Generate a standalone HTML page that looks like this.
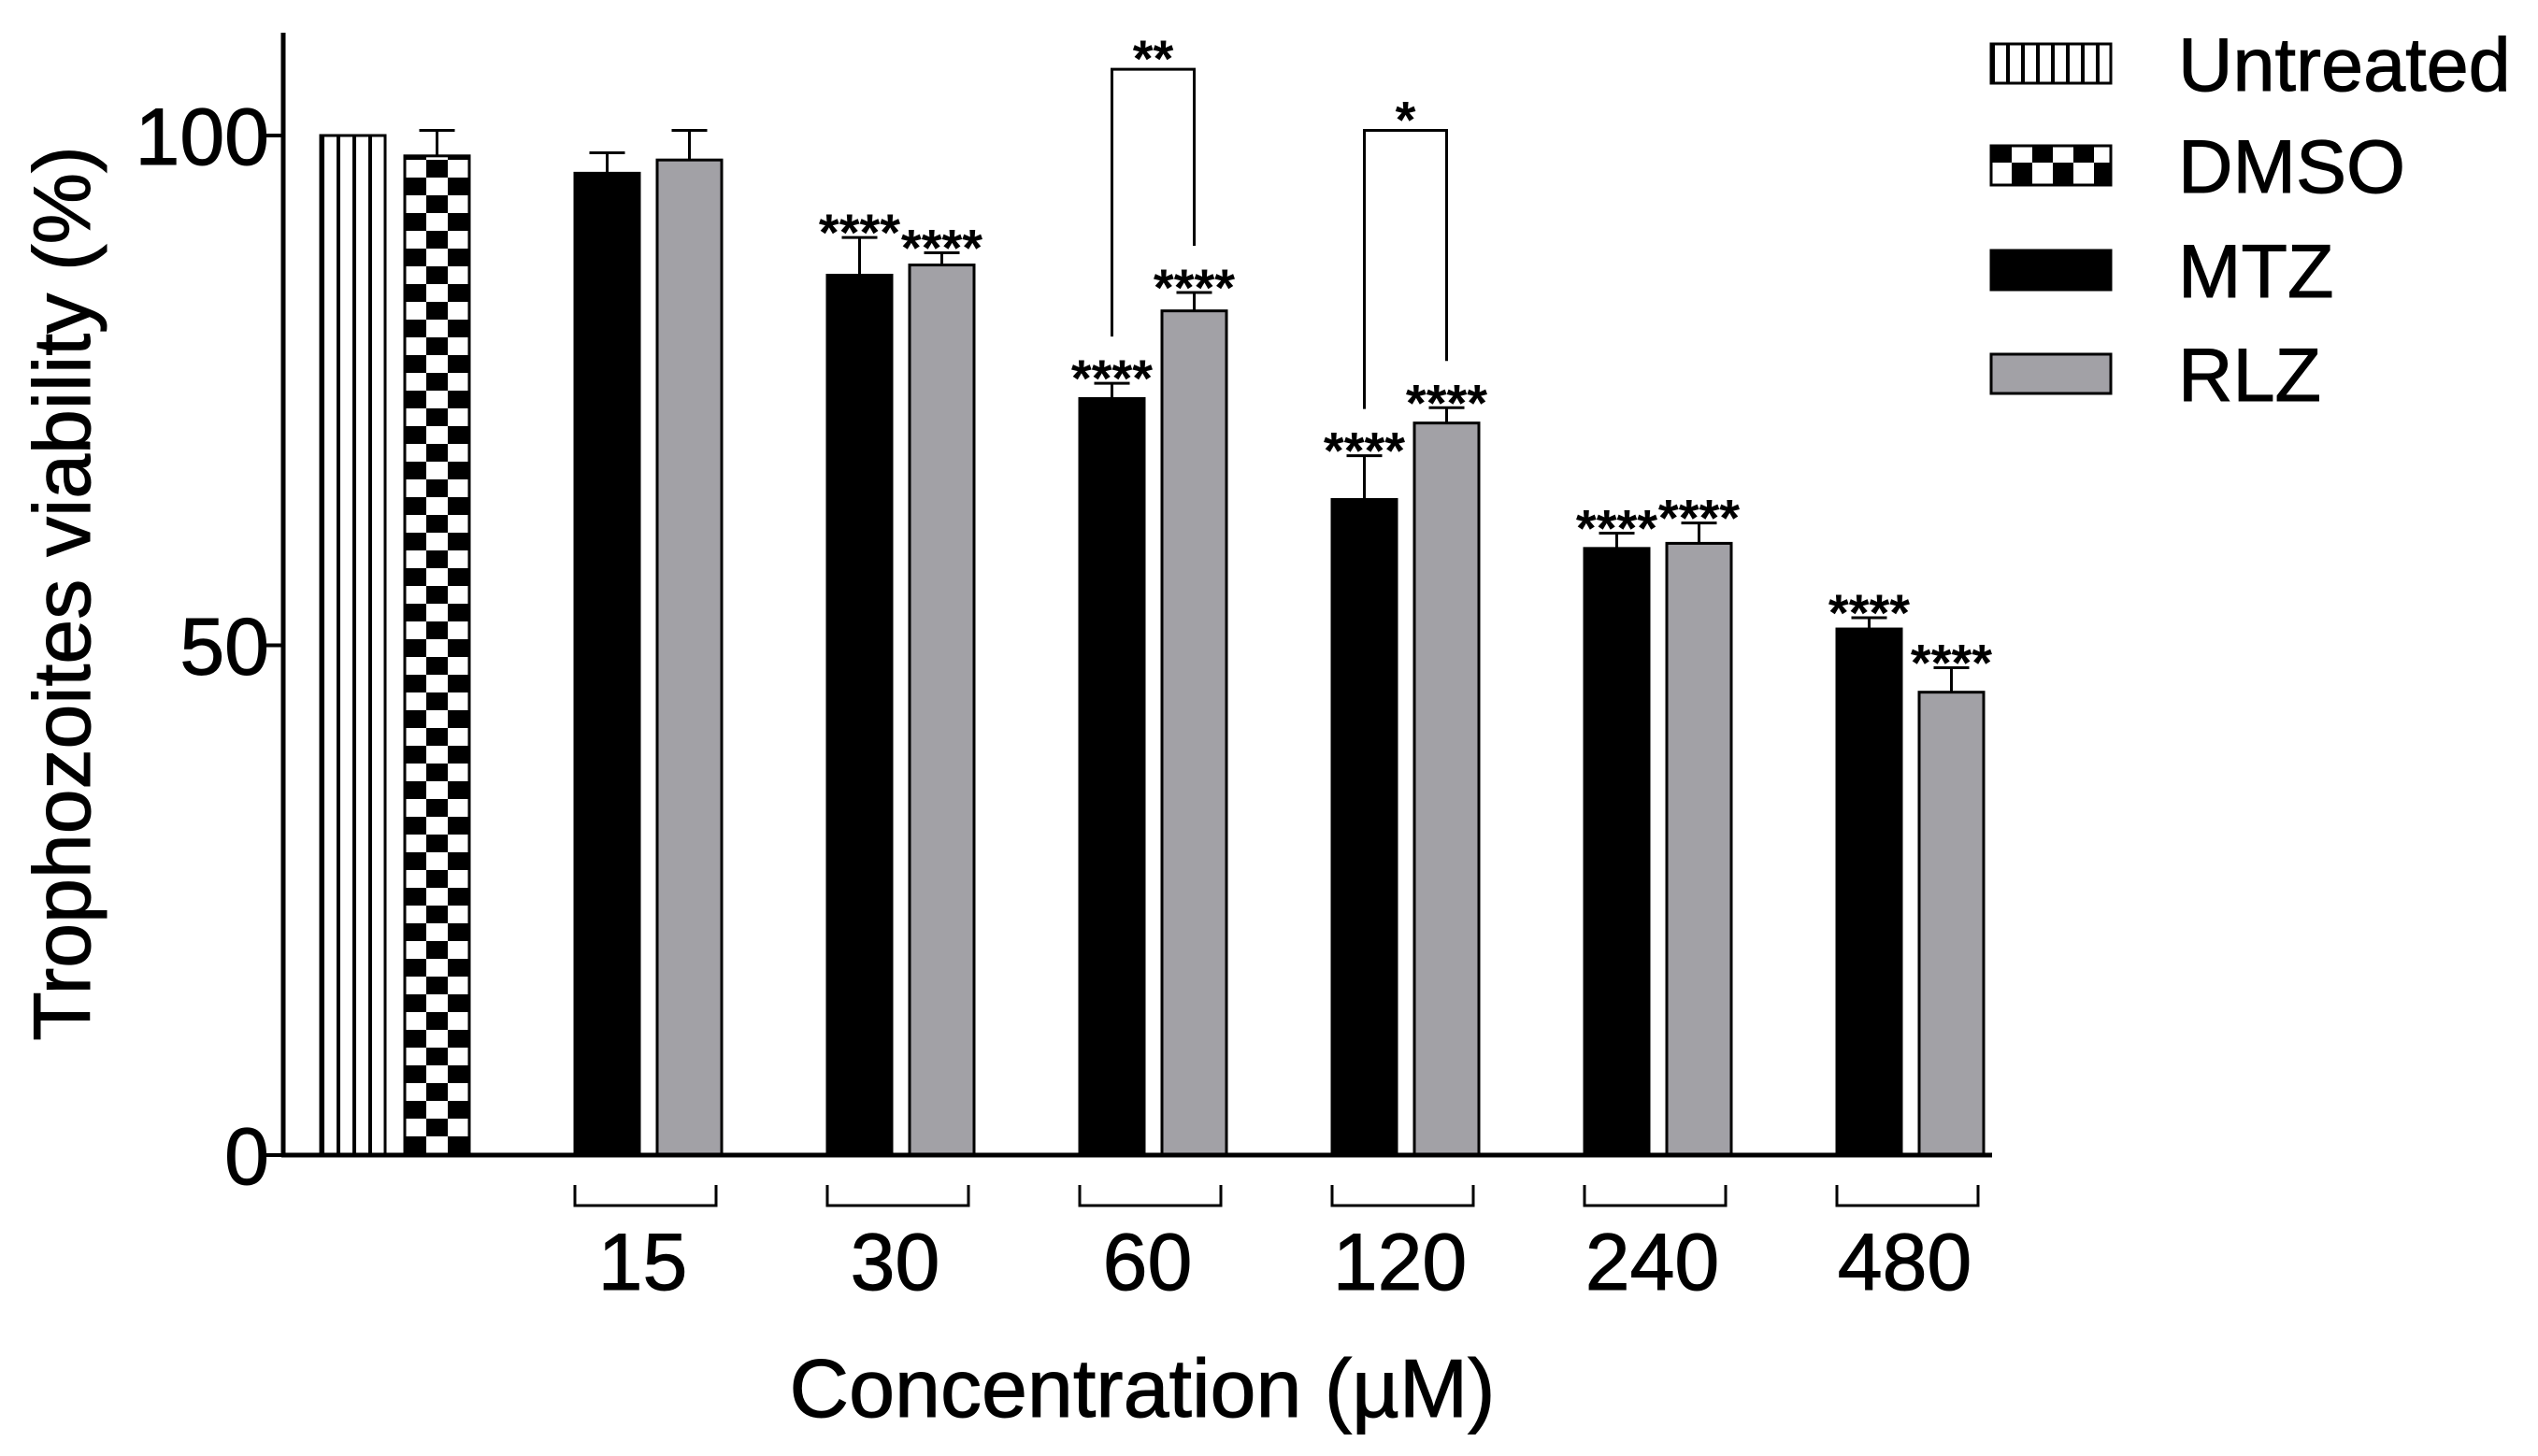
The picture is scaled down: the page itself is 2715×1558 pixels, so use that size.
<!DOCTYPE html>
<html><head><meta charset="utf-8"><style>
html,body{margin:0;padding:0;background:#fff}
svg{display:block}
text{font-family:"Liberation Sans",Arial,sans-serif;fill:#000}
</style></head><body>
<svg id="chart" width="2715" height="1558" viewBox="0 0 2715 1558" xmlns="http://www.w3.org/2000/svg">
<defs>
<pattern id="stripes" patternUnits="userSpaceOnUse" x="343" y="0" width="17" height="10"><rect width="17" height="10" fill="#fff"/><rect x="0" width="4" height="10" fill="#000"/></pattern>
<pattern id="checker" patternUnits="userSpaceOnUse" x="433" y="0" width="46" height="38"><rect width="46" height="38" fill="#fff"/><rect width="23" height="19" fill="#000"/><rect x="23" y="19" width="23" height="19" fill="#000"/></pattern>
<pattern id="stripesL" patternUnits="userSpaceOnUse" x="2130" y="0" width="16" height="10"><rect width="16" height="10" fill="#fff"/><rect width="4" height="10" fill="#000"/></pattern>
<pattern id="checkerL" patternUnits="userSpaceOnUse" x="2130" y="54" width="44" height="48"><rect width="44" height="48" fill="#fff"/><rect width="22" height="24" fill="#000"/><rect x="22" y="24" width="22" height="24" fill="#000"/></pattern>
</defs>
<g id="marks"></g>
<text transform="translate(96,635) rotate(-90)" text-anchor="middle" font-size="86" stroke="#000" stroke-width="1">Trophozoites viability (%)</text>
<text x="1222" y="1516" text-anchor="middle" font-size="88" stroke="#000" stroke-width="1">Concentration (µM)</text>
<g>
<rect x="2130" y="47" width="128" height="42" fill="url(#stripesL)" stroke="#000" stroke-width="3"/>
<text x="2330" y="97" font-size="81" stroke="#000" stroke-width="1">Untreated</text>
<rect x="2130" y="156" width="128" height="42" fill="url(#checkerL)" stroke="#000" stroke-width="3"/>
<text x="2330" y="206" font-size="81" stroke="#000" stroke-width="1">DMSO</text>
<rect x="2130" y="268" width="128" height="42" fill="#000" stroke="#000" stroke-width="3"/>
<text x="2330" y="318" font-size="81" stroke="#000" stroke-width="1">MTZ</text>
<rect x="2130" y="379" width="128" height="42" fill="#a2a1a6" stroke="#000" stroke-width="3"/>
<text x="2330" y="429" font-size="81" stroke="#000" stroke-width="1">RLZ</text>
</g>
</svg>
<script>
const categories = ["15","30","60","120","240","480"];
const mtzValues = [96.3, 86.3, 74.2, 64.3, 59.5, 51.6];
const mtzErr = [2.0, 3.7, 1.5, 4.3, 1.5, 1.1];
const rlzValues = [97.6, 87.3, 82.8, 71.8, 60.0, 45.4];
const rlzErr = [2.9, 1.2, 1.8, 1.5, 2.0, 2.4];
const mtzStars = ["", "****", "****", "****", "****", "****"];
const rlzStars = ["", "****", "****", "****", "****", "****"];
const controlLabels = ["Untreated","DMSO"];
const controlValues = [100, 98.0];
const controlErr = [0, 2.5];
const yTicks = [0, 50, 100];
const comparisons = [{group:2, label:"**", top:106.5}, {group:3, label:"*", top:100.5}];

const NS = "http://www.w3.org/2000/svg";
const g = document.getElementById('marks');
const y0 = 1236, yScale = 10.91;
const y = v => y0 - v * yScale;
const barW = 69;
const groupX = i => 615 + i * 270;
const rlzX = i => groupX(i) + 88;
function el(tag, attrs, parent) {
  const e = document.createElementNS(NS, tag);
  for (const k in attrs) e.setAttribute(k, attrs[k]);
  (parent || g).appendChild(e);
  return e;
}
function errBar(cx, v, e) {
  if (e <= 0) return;
  const l = el('path', {d:`M${cx},${y(v)} V${y(v+e)} M${cx-19},${y(v+e)} H${cx+19}`, stroke:'#000', 'stroke-width':3, fill:'none'});
  
  
}
function stars(cx, v, s) {
  if (!s) return;
  const t = el('text', {x:cx, y:y(v)+14, 'text-anchor':'middle', 'font-size':56, 'font-weight':'bold'});
  t.textContent = s;
  
  
}
const ctrlX = [343, 433];
const fills = ['url(#stripes)', 'url(#checker)'];
controlValues.forEach((v, i) => {
  const r = el('rect', {x:ctrlX[i], y:y(v), width:barW, height:y0 - y(v), fill:fills[i], stroke:'#000', 'stroke-width':3});
  
  
  errBar(ctrlX[i] + barW/2, v, controlErr[i]);
});
categories.forEach((c, i) => {
  const r1 = el('rect', {x:groupX(i), y:y(mtzValues[i]), width:barW, height:y0 - y(mtzValues[i]), fill:'#000', stroke:'#000', 'stroke-width':3});
  
  
  const r2 = el('rect', {x:rlzX(i), y:y(rlzValues[i]), width:barW, height:y0 - y(rlzValues[i]), fill:'#a2a1a6', stroke:'#000', 'stroke-width':3});
  
  
  errBar(groupX(i) + barW/2, mtzValues[i], mtzErr[i]);
  errBar(rlzX(i) + barW/2, rlzValues[i], rlzErr[i]);
  stars(groupX(i) + barW/2, mtzValues[i] + mtzErr[i], mtzStars[i]);
  stars(rlzX(i) + barW/2, rlzValues[i] + rlzErr[i], rlzStars[i]);
  const b = el('path', {d:`M${groupX(i)},1268 V1290 H${rlzX(i)+barW-6} V1268`, stroke:'#000', 'stroke-width':3, fill:'none'});
  
  
  const t = el('text', {x:(groupX(i) + rlzX(i) + barW)/2 - 6, y:1380, 'text-anchor':'middle', 'font-size':86, stroke:'#000', 'stroke-width':1});
  t.textContent = c;
  
  
});
comparisons.forEach(cmp => {
  const i = cmp.group;
  const lx = groupX(i) + barW/2, rx = rlzX(i) + barW/2;
  const lb = y(mtzValues[i] + mtzErr[i]) - 50, rb = y(rlzValues[i] + rlzErr[i]) - 50;
  const p = el('path', {d:`M${lx},${lb} V${y(cmp.top)} H${rx} V${rb}`, stroke:'#000', 'stroke-width':3, fill:'none'});
  
  
  const t = el('text', {x:(lx + rx)/2, y:y(cmp.top) + 8, 'text-anchor':'middle', 'font-size':56, 'font-weight':'bold'});
  t.textContent = cmp.label;
  
  
});
const ya = el('line', {x1:303, y1:35, x2:303, y2:y0 + 2, stroke:'#000', 'stroke-width':5});


const xa = el('line', {x1:301, y1:y0, x2:2131, y2:y0, stroke:'#000', 'stroke-width':5});


yTicks.forEach(v => {
  const tk = el('line', {x1:277, y1:y(v), x2:303, y2:y(v), stroke:'#000', 'stroke-width':4});
  
  
  const t = el('text', {x:288, y:y(v) + 31, 'text-anchor':'end', 'font-size':86, stroke:'#000', 'stroke-width':1});
  t.textContent = v;
  
  
});
</script>
</body></html>
